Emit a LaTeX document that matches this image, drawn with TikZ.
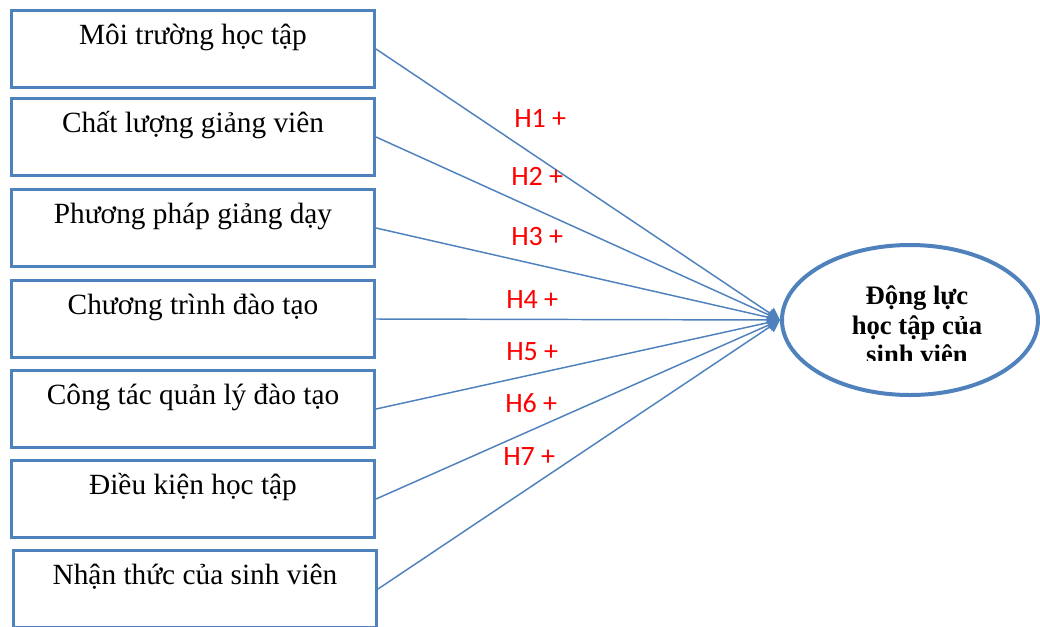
\documentclass[tikz,border=0pt]{standalone}
\usepackage{fontspec}
\setmainfont{Liberation Serif}
\newfontfamily\hfont{Carlito}
\usetikzlibrary{shapes.geometric,arrows.meta}
\definecolor{boxblue}{HTML}{4F81BD}
\begin{document}
\begin{tikzpicture}[x=0.75pt, y=-0.75pt,
	factor/.style={rectangle, draw=boxblue, line width=1.9pt, anchor=north west, inner sep=0pt, minimum width=272.6pt, minimum height=58.1pt, text height=25.5pt, text depth=32.6pt, font=\fontsize{22}{26}\selectfont},
	goalshape/.style={ellipse, draw=boxblue, line width=3pt, minimum width=192pt, minimum height=112.5pt, inner sep=0pt},
	hyp/.style={anchor=base west, text=red, inner sep=0pt, font=\hfont\fontsize{21}{25}\selectfont},
	link/.style={draw=boxblue, line width=1.1pt, -{Triangle[length=9pt, width=10pt]}}]
	\useasboundingbox (0,0) rectangle (1040,626);

	% left boxes
	\node[factor](moitruong) at (10,9){Môi trường học tập};
	\node[factor](giangvien) at (10,97){Chất lượng giảng viên};
	\node[factor](phuongphap) at (10,188){Phương pháp giảng dạy};
	\node[factor](chuongtrinh) at (10,279){Chương trình đào tạo};
	\node[factor](quanly) at (10,369){Công tác quản lý đào tạo};
	\node[factor](dieukien) at (10,459){Điều kiện học tập};
	\node[factor](nhanthuc) at (12,549){Nhận thức của sinh viên};

	% right ellipse
	\node[goalshape](dongluc) at (910,320){};
	\begin{scope}
		\clip (780,240) rectangle (1040,360);
		\node[align=center, inner sep=0pt, font=\bfseries\fontsize{20}{22.1}\selectfont](donglucchu) at (917,325){Động lực\\học tập của\\sinh viên};
	\end{scope}

	% arrows
	\draw[link] (moitruong.east) -- (dongluc.west);
	\draw[link] (giangvien.east) -- (dongluc.west);
	\draw[link] (phuongphap.east) -- (dongluc.west);
	\draw[link] (chuongtrinh.east) -- (dongluc.west);
	\draw[link] (quanly.east) -- (dongluc.west);
	\draw[link] (dieukien.east) -- (dongluc.west);
	\draw[link] (nhanthuc.east) -- (dongluc.west);

	% hypothesis labels
	\node[hyp](h1) at (514,127){H1 +};
	\node[hyp](h2) at (511,185){H2 +};
	\node[hyp](h3) at (511,245){H3 +};
	\node[hyp](h4) at (506,308){H4 +};
	\node[hyp](h5) at (506,360){H5 +};
	\node[hyp](h6) at (505,412){H6 +};
	\node[hyp](h7) at (503,465){H7 +};
\end{tikzpicture}
\end{document}
